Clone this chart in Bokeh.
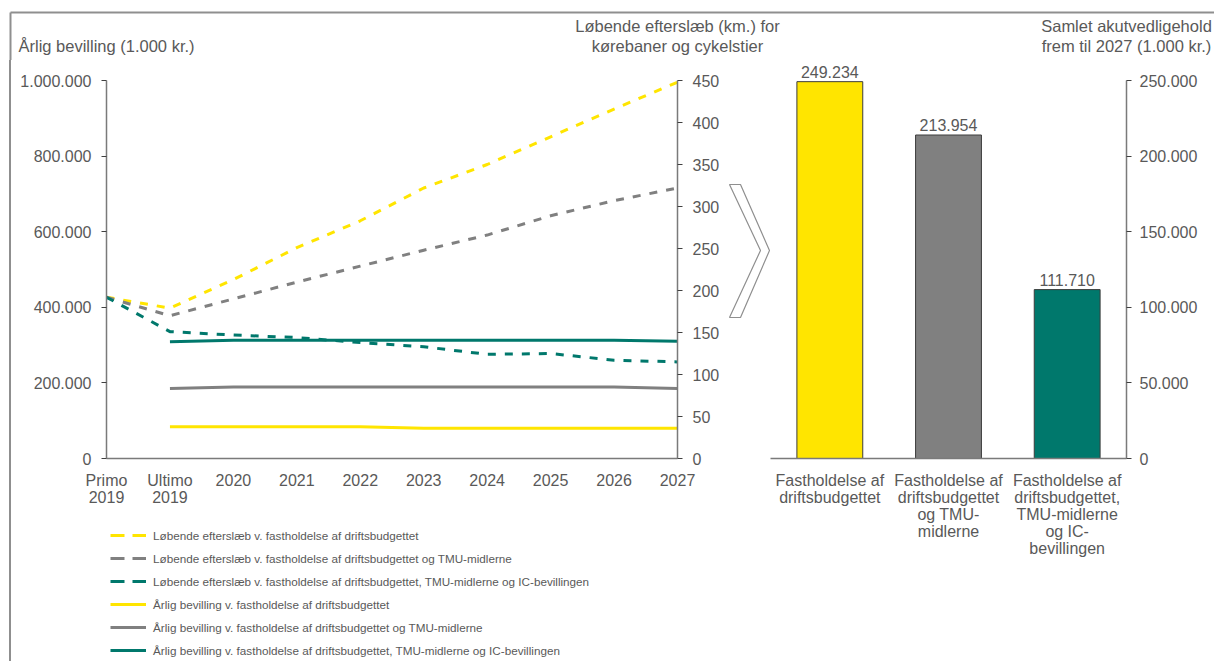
from bokeh.plotting import figure
from bokeh.models import (Range1d, LinearAxis, FixedTicker, Legend, LegendItem,
                          ColumnDataSource, LabelSet, Div)
from bokeh.layouts import row, column
from bokeh.embed import file_html
from bokeh.resources import INLINE
from bokeh.core.properties import value

FONT = "Liberation Sans"
TEXT = "#595959"
AXIS = "#7a7a7a"
TICK = "#404040"
YELLOW = "#FFE500"
GREY = "#808080"
GREEN = "#00786C"
FRAME = "#8f8f8f"
NAN = float("nan")

# ---- time axis -------------------------------------------------------------
periods = ["Primo\n2019", "Ultimo\n2019", "2020", "2021", "2022",
           "2023", "2024", "2025", "2026", "2027"]

# running backlog (km) of carriageways and cycle paths
backlog_drift = [192, 179, 213, 251, 283, 322, 350, 383, 416, 448]
backlog_drift_tmu = [192, 170, 190, 210, 229, 248, 266, 289, 307, 322]
backlog_drift_tmu_ic = [192, 151, 147, 144, 138, 133, 124, 125, 117, 115]

# annual appropriation (1.000 kr.)
budget_drift = [NAN, 84000, 84000, 84000, 84000, 80000, 80000, 80000, 80000, 80000]
budget_drift_tmu = [NAN, 185000, 189000, 189000, 189000, 189000, 189000, 189000, 189000, 185000]
budget_drift_tmu_ic = [NAN, 309000, 313000, 313000, 313000, 313000, 313000, 313000, 313000, 310000]

legend_labels = [
    "Løbende efterslæb v. fastholdelse af driftsbudgettet",
    "Løbende efterslæb v. fastholdelse af driftsbudgettet og TMU-midlerne",
    "Løbende efterslæb v. fastholdelse af driftsbudgettet, TMU-midlerne og IC-bevillingen",
    "Årlig bevilling v. fastholdelse af driftsbudgettet",
    "Årlig bevilling v. fastholdelse af driftsbudgettet og TMU-midlerne",
    "Årlig bevilling v. fastholdelse af driftsbudgettet, TMU-midlerne og IC-bevillingen",
]

# ---- accumulated acute maintenance up to 2027 ------------------------------
scenarios = ["Fastholdelse af\ndriftsbudgettet",
             "Fastholdelse af\ndriftsbudgettet\nog TMU-\nmidlerne",
             "Fastholdelse af\ndriftsbudgettet,\nTMU-midlerne\nog IC-\nbevillingen"]
acute_totals = [249234, 213954, 111710]
bar_colors = [YELLOW, GREY, GREEN]

budget_ticks = [0, 200000, 400000, 600000, 800000, 1000000]
backlog_ticks = [0, 50, 100, 150, 200, 250, 300, 350, 400, 450]
acute_ticks = [0, 50000, 100000, 150000, 200000, 250000]

titles = [
    ("Årlig bevilling (1.000 kr.)", 106, 45),
    ("Løbende efterslæb (km.) for", 677, 25),
    ("kørebaner og cykelstier", 677, 45),
    ("Samlet akutvedligehold", 1126, 25),
    ("frem til 2027 (1.000 kr.)", 1126, 45),
]

# outlined chevron between the two panels (page pixels)
CHEVRON_X = [729, 740, 769, 740, 729, 760]
CHEVRON_Y = [184, 184, 250, 317, 317, 250]

# layout geometry (pixels)
HEADER_H = 60
BODY_H = 661 - HEADER_H
FRAME_TOP, FRAME_BOTTOM = 60, 458      # plot frame, page coordinates
AXIS_TOP = 80                          # where the highest tick sits
STRETCH = (FRAME_BOTTOM - FRAME_TOP) / (FRAME_BOTTOM - AXIS_TOP)
LINES_H = 450                          # line chart incl. its category labels
KEY_H = BODY_H - LINES_H               # legend strip below it


def dk(n):
    return f"{n:,}".replace(",", ".")


def blank(width, height, xr, yr):
    f = figure(width=width, height=height, x_range=xr, y_range=yr,
               toolbar_location=None, output_backend="svg",
               x_axis_location=None, y_axis_location=None, min_border=0)
    f.grid.visible = False
    f.outline_line_color = None
    return f


def style_axis(ax, tick_out=5, standoff=10):
    ax.axis_line_color = AXIS
    ax.axis_line_width = 1.5
    ax.major_tick_line_color = TICK
    ax.major_tick_out = tick_out
    ax.major_tick_in = 0
    ax.minor_tick_out = 0
    ax.minor_tick_in = 0
    ax.major_label_standoff = standoff
    ax.major_label_text_font = FONT
    ax.major_label_text_font_size = "16px"
    ax.major_label_text_color = TEXT
    ax.major_label_text_line_height = 1.0


# ---- header strip with axis titles -----------------------------------------
top = blank(1214, HEADER_H, Range1d(0, 1214), Range1d(HEADER_H, 0))
top.segment(x0=[10, 10], y0=[12, 12], x1=[1214, 10], y1=[12, HEADER_H],
            line_color=FRAME, line_width=2)
top.text(x=[t[1] for t in titles], y=[t[2] for t in titles], text=[t[0] for t in titles],
         text_font=value(FONT), text_font_size="16.5px", text_color=TEXT,
         text_align="center", text_baseline="middle")

# ---- left border of the panel ----------------------------------------------
edge = Div(width=12, height=BODY_H, margin=0,
           text=f'<div style="margin-left:9px;width:2px;height:{BODY_H}px;'
                f'background:{FRAME}"></div>')

# ---- line chart ---------------------------------------------------------------
x = list(range(len(periods)))
p = figure(width=711, height=LINES_H, x_range=Range1d(0, len(periods) - 1),
           y_range=Range1d(0, budget_ticks[-1] * STRETCH),
           toolbar_location=None, output_backend="svg",
           min_border_left=94, min_border_right=46, min_border_top=FRAME_TOP - HEADER_H,
           min_border_bottom=HEADER_H + LINES_H - FRAME_BOTTOM)
p.extra_y_ranges = {"km": Range1d(0, backlog_ticks[-1] * STRETCH)}
p.grid.visible = False
p.outline_line_color = None

line_styles = [
    (budget_drift, YELLOW, None, "default"),
    (budget_drift_tmu, GREY, None, "default"),
    (budget_drift_tmu_ic, GREEN, None, "default"),
    (backlog_drift, YELLOW, "8 9", "km"),
    (backlog_drift_tmu, GREY, "8 9", "km"),
    (backlog_drift_tmu_ic, GREEN, "8 9", "km"),
]
for ys, col, dash, rng in line_styles:
    p.line(x, ys, line_color=col, line_width=3, line_dash=dash or "solid",
           y_range_name=rng)

xa = p.xaxis[0]
xa.ticker = FixedTicker(ticks=x)
xa.major_label_overrides = {i: lab for i, lab in zip(x, periods)}
style_axis(xa, tick_out=0, standoff=13)

ya = p.yaxis[0]
ya.ticker = FixedTicker(ticks=budget_ticks)
ya.major_label_overrides = {t: dk(t) for t in budget_ticks}
ya.bounds = (0, budget_ticks[-1])
style_axis(ya)

ya2 = LinearAxis(y_range_name="km", ticker=FixedTicker(ticks=backlog_ticks),
                 bounds=(0, backlog_ticks[-1]))
style_axis(ya2)
p.add_layout(ya2, "right")

# ---- legend strip: key swatches in the same styles as the lines ---------------
key = blank(711, KEY_H, Range1d(0, 711), Range1d(0, KEY_H))
key_order = [3, 4, 5, 0, 1, 2]
swatches = []
for i in key_order:
    _, col, dash, _ = line_styles[i]
    swatches.append(key.line([NAN], [NAN], line_color=col, line_width=3,
                             line_dash="14 8" if dash else "solid"))
legend = Legend(items=[LegendItem(label=lab, renderers=[r]) for lab, r in
                       zip(legend_labels, swatches)],
                location=(4, 3), orientation="vertical",
                border_line_color=None, background_fill_alpha=0,
                label_text_font=FONT, label_text_font_size="11.7px", label_text_color=TEXT,
                glyph_width=36, glyph_height=16, label_height=16, spacing=7,
                padding=0, margin=0, label_standoff=7)
key.add_layout(legend)

# ---- chevron -----------------------------------------------------------------
chev = blank(47, BODY_H, Range1d(723, 770), Range1d(FRAME_BOTTOM, FRAME_TOP))
chev.patch(CHEVRON_X, CHEVRON_Y, fill_color="white", line_color=FRAME, line_width=1.2)

# ---- bar chart ----------------------------------------------------------------
bx = list(range(len(scenarios)))
b = figure(width=444, height=BODY_H, x_range=Range1d(-0.5, len(scenarios) - 0.5),
           y_range=Range1d(0, acute_ticks[-1] * STRETCH),
           toolbar_location=None, output_backend="svg", y_axis_location="right",
           min_border_left=0, min_border_right=88, min_border_top=FRAME_TOP - HEADER_H,
           min_border_bottom=661 - FRAME_BOTTOM)
b.grid.visible = False
b.outline_line_color = None
src = ColumnDataSource(dict(x=bx, top=acute_totals, color=bar_colors,
                            label=[dk(v) for v in acute_totals]))
b.vbar(x="x", top="top", width=0.555, fill_color="color", line_color="#3c3c3c",
       line_width=1, source=src)
b.add_layout(LabelSet(x="x", y="top", text="label", source=src, y_offset=4,
                      text_align="center", text_baseline="bottom",
                      text_font=value(FONT), text_font_size="16px", text_color=TEXT))

bxa = b.xaxis[0]
bxa.ticker = FixedTicker(ticks=bx)
bxa.major_label_overrides = {i: lab for i, lab in zip(bx, scenarios)}
style_axis(bxa, tick_out=0, standoff=13)

bya = b.yaxis[0]
bya.ticker = FixedTicker(ticks=acute_ticks)
bya.major_label_overrides = {t: dk(t) for t in acute_ticks}
bya.bounds = (0, acute_ticks[-1])
style_axis(bya, standoff=8)

layout = column(top, row(edge, column(p, key, spacing=0), chev, b, spacing=0), spacing=0)

open("out.html", "w").write(file_html(layout, INLINE))
